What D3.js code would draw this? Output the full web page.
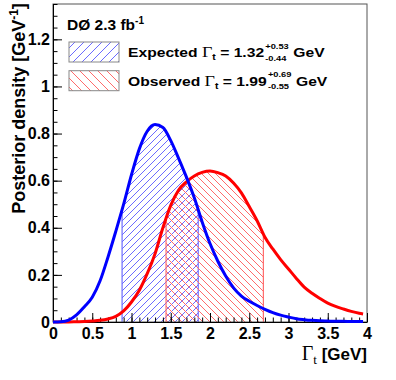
<!DOCTYPE html>
<html>
<head>
<meta charset="utf-8">
<script src="https://cdn.jsdelivr.net/npm/d3@7"></script>
<style>
	body { margin: 0; background: #fff; }
	svg text { font-family: "Liberation Sans", Arial, Helvetica, sans-serif; font-weight: bold; fill: #000; }
	.greek { font-family: "Liberation Serif", "Times New Roman", serif; font-weight: normal; }
</style>
</head>
<body>
<svg id="chart" width="396" height="380"></svg>
<script>
// top width grid [GeV] and posterior densities
const widthGrid = [0, 0.1, 0.2, 0.3, 0.4, 0.5, 0.6, 0.7, 0.8, 0.9, 1.0, 1.1, 1.2, 1.3, 1.4, 1.5, 1.6, 1.7, 1.8, 1.9,
	2.0, 2.1, 2.2, 2.3, 2.4, 2.5, 2.6, 2.7, 2.8, 2.9, 3.0, 3.1, 3.2, 3.3, 3.4, 3.5, 3.6, 3.7, 3.8, 3.9, 3.95];
const expectedDensity = [0, 0.001, 0.008, 0.03, 0.065, 0.105, 0.175, 0.275, 0.385, 0.5, 0.625, 0.735, 0.81, 0.838, 0.826, 0.77, 0.695, 0.615, 0.527, 0.425,
	0.333, 0.258, 0.195, 0.145, 0.11, 0.088, 0.07, 0.054, 0.04, 0.029, 0.021, 0.014, 0.01, 0.007, 0.005, 0.004, 0.003, 0.003, 0.002, 0.002, 0.002];
const observedDensity = [0, 0, 0, 0.001, 0.002, 0.004, 0.007, 0.013, 0.024, 0.047, 0.085, 0.135, 0.205, 0.29, 0.4, 0.495, 0.56, 0.595, 0.62, 0.635,
	0.641, 0.634, 0.62, 0.59, 0.548, 0.49, 0.43, 0.36, 0.31, 0.265, 0.225, 0.185, 0.148, 0.122, 0.1, 0.08, 0.066, 0.055, 0.045, 0.037, 0.034];
// 68% intervals
const expectedBand = [0.88, 1.85];
const observedBand = [1.44, 2.68];
const xTicks = [0, 0.5, 1, 1.5, 2, 2.5, 3, 3.5, 4];
const yTicks = [0, 0.2, 0.4, 0.6, 0.8, 1, 1.2];
const legendRows = [
	{ key: 'exp', label: 'Expected ', value: '1.32', up: '+0.53', down: '-0.44' },
	{ key: 'obs', label: 'Observed ', value: '1.99', up: '+0.69', down: '-0.55' },
];

const colors = { exp: '#0000ff', obs: '#ff0000', expHatch: '#6b6bff', obsHatch: '#ff6b6b' };

const svg = d3.select('svg#chart');
const frame = { left: 53, right: 367, top: 4, bottom: 322 };

const x = d3.scaleLinear([0, 4], [frame.left, frame.right]);
const y = d3.scaleLinear([0, 1.35], [frame.bottom, frame.top]);

const defs = svg.append('defs');

function hatch (id, color, s, rising) {
	const d = rising
		? `M-1,1 L1,-1 M0,${s} L${s},0 M${s - 1},${s + 1} L${s + 1},${s - 1}`
		: `M-1,${s - 1} L1,${s + 1} M0,0 L${s},${s} M${s - 1},-1 L${s + 1},1`;
	defs.append('pattern')
		.attr('id', id)
		.attr('patternUnits', 'userSpaceOnUse')
		.attr('width', s)
		.attr('height', s)
		.append('path')
		.attr('d', d)
		.attr('stroke', color)
		.attr('stroke-width', 1)
		.attr('fill', 'none');
}
hatch('hatch-exp', colors.expHatch, 7, true);
hatch('hatch-obs', colors.obsHatch, 7, false);
hatch('legend-exp', colors.expHatch, 9, true);
hatch('legend-obs', colors.obsHatch, 9, false);

const pts = key => widthGrid.map((w, i) => [w, key === 'exp' ? expectedDensity[i] : observedDensity[i]]);

const area = d3.area()
	.x(d => x(d[0]))
	.y0(y(0))
	.y1(d => y(d[1]))
	.curve(d3.curveMonotoneX);
const line = d3.line()
	.x(d => x(d[0]))
	.y(d => y(d[1]))
	.curve(d3.curveMonotoneX);

// hatched intervals, clipped to the band and to the area under the curve
[['exp', expectedBand], ['obs', observedBand]].forEach(([key, band]) => {
	defs.append('clipPath').attr('id', `band-${key}`)
		.append('rect')
		.attr('x', x(band[0]))
		.attr('y', frame.top)
		.attr('width', x(band[1]) - x(band[0]))
		.attr('height', frame.bottom - frame.top);
	defs.append('clipPath').attr('id', `under-${key}`)
		.append('path')
		.attr('d', area(pts(key)));

	svg.append('path')
		.attr('class', `band ${key}`)
		.attr('d', area(pts(key)))
		.attr('fill', `url(#hatch-${key})`)
		.attr('clip-path', `url(#band-${key})`);

	svg.append('g')
		.attr('clip-path', `url(#under-${key})`)
		.selectAll('line')
		.data(band)
		.join('line')
		.attr('x1', d => x(d))
		.attr('x2', d => x(d))
		.attr('y1', frame.top)
		.attr('y2', frame.bottom)
		.attr('stroke', colors[key + 'Hatch'])
		.attr('stroke-width', 1.2);
});

// frame
svg.append('rect')
	.attr('x', frame.left)
	.attr('y', frame.top)
	.attr('width', frame.right - frame.left)
	.attr('height', frame.bottom - frame.top)
	.attr('fill', 'none')
	.attr('stroke', '#555')
	.attr('stroke-width', 1);

// axes, ROOT style ticks pointing inside
const fmt = d3.format('~g');
const xAxis = svg.append('g')
	.attr('transform', `translate(0,${frame.bottom})`)
	.call(d3.axisBottom(x).tickValues(xTicks).tickSize(-9).tickSizeOuter(0).tickPadding(6).tickFormat(fmt));
svg.append('g')
	.attr('transform', `translate(0,${frame.bottom})`)
	.call(d3.axisBottom(x).ticks(40).tickSize(-4.5).tickSizeOuter(0).tickFormat(''))
	.call(g => g.select('.domain').remove());

const yAxis = svg.append('g')
	.attr('transform', `translate(${frame.left},0)`)
	.call(d3.axisLeft(y).tickValues(yTicks).tickSize(-9).tickSizeOuter(0).tickPadding(3).tickFormat(fmt));
svg.append('g')
	.attr('transform', `translate(${frame.left},0)`)
	.call(d3.axisLeft(y).tickValues(d3.range(0, 1.36, 0.05)).tickSize(-4.5).tickSizeOuter(0).tickFormat(''))
	.call(g => g.select('.domain').remove());

svg.selectAll('.tick line').attr('stroke', '#000');
svg.selectAll('.domain').attr('stroke', '#000');
[xAxis, yAxis].forEach(a => a.selectAll('text').attr('font-size', 16).style('font-family', '"Liberation Sans", Arial, sans-serif').style('font-weight', 'bold'));

// curves
[['obs', colors.obs], ['exp', colors.exp]].forEach(([key, color]) => {
	svg.append('path')
		.attr('d', line(pts(key)))
		.attr('fill', 'none')
		.attr('stroke', color)
		.attr('stroke-width', 3);
});

// axis titles
const yTitle = svg.append('text')
	.attr('transform', `translate(25,${(frame.top + 213) / 2}) rotate(-90)`)
	.attr('text-anchor', 'middle')
	.attr('font-size', 18);
yTitle.append('tspan').text('Posterior density [GeV');
yTitle.append('tspan').attr('font-size', 12).attr('dy', -7).text('-1');
yTitle.append('tspan').attr('dy', 7).text(']');

const xTitle = svg.append('text')
	.attr('x', frame.right)
	.attr('y', 360)
	.attr('text-anchor', 'end')
	.attr('font-size', 17);
xTitle.append('tspan').attr('class', 'greek').attr('font-size', 20).text('Γ');
xTitle.append('tspan').attr('class', 'greek').attr('font-size', 13).attr('dy', 4).text('t');
xTitle.append('tspan').attr('dy', -4).text(' [GeV]');

// experiment label
const dzero = svg.append('text')
	.attr('x', 67)
	.attr('y', 30)
	.attr('font-size', 15.5);
dzero.append('tspan').text('DØ 2.3 fb');
dzero.append('tspan').attr('font-size', 10).attr('dy', -6).text('-1');

// legend
const legend = svg.append('g').attr('class', 'legend');
legendRows.forEach((row, i) => {
	const top = 42 + i * 28.7;
	legend.append('rect')
		.attr('x', 69)
		.attr('y', top)
		.attr('width', 50)
		.attr('height', 20)
		.attr('fill', `url(#legend-${row.key})`)
		.attr('stroke', '#888')
		.attr('stroke-width', 1);

	// the reference text is a little wider than the font, so stretch it
	const g = legend.append('g').attr('transform', `translate(128,${top + 15}) scale(1.16,1)`);
	const t = g.append('text').attr('font-size', 13.5);
	t.append('tspan').text(row.label);
	t.append('tspan').attr('class', 'greek').attr('font-size', 15.5).text('Γ');
	t.append('tspan').attr('font-size', 9).attr('dy', 3).text('t');
	t.append('tspan').attr('dy', -3).text(' = ' + row.value);

	const after = t.node().getComputedTextLength() + 1;
	const up = g.append('text').attr('x', after).attr('y', -8.5).attr('font-size', 8).text(row.up);
	const down = g.append('text').attr('x', after).attr('y', 3.5).attr('font-size', 8).text(row.down);
	const w = Math.max(up.node().getComputedTextLength(), down.node().getComputedTextLength());
	g.append('text')
		.attr('x', after + w + 4)
		.attr('font-size', 13.5)
		.text('GeV');
});
</script>
</body>
</html>
